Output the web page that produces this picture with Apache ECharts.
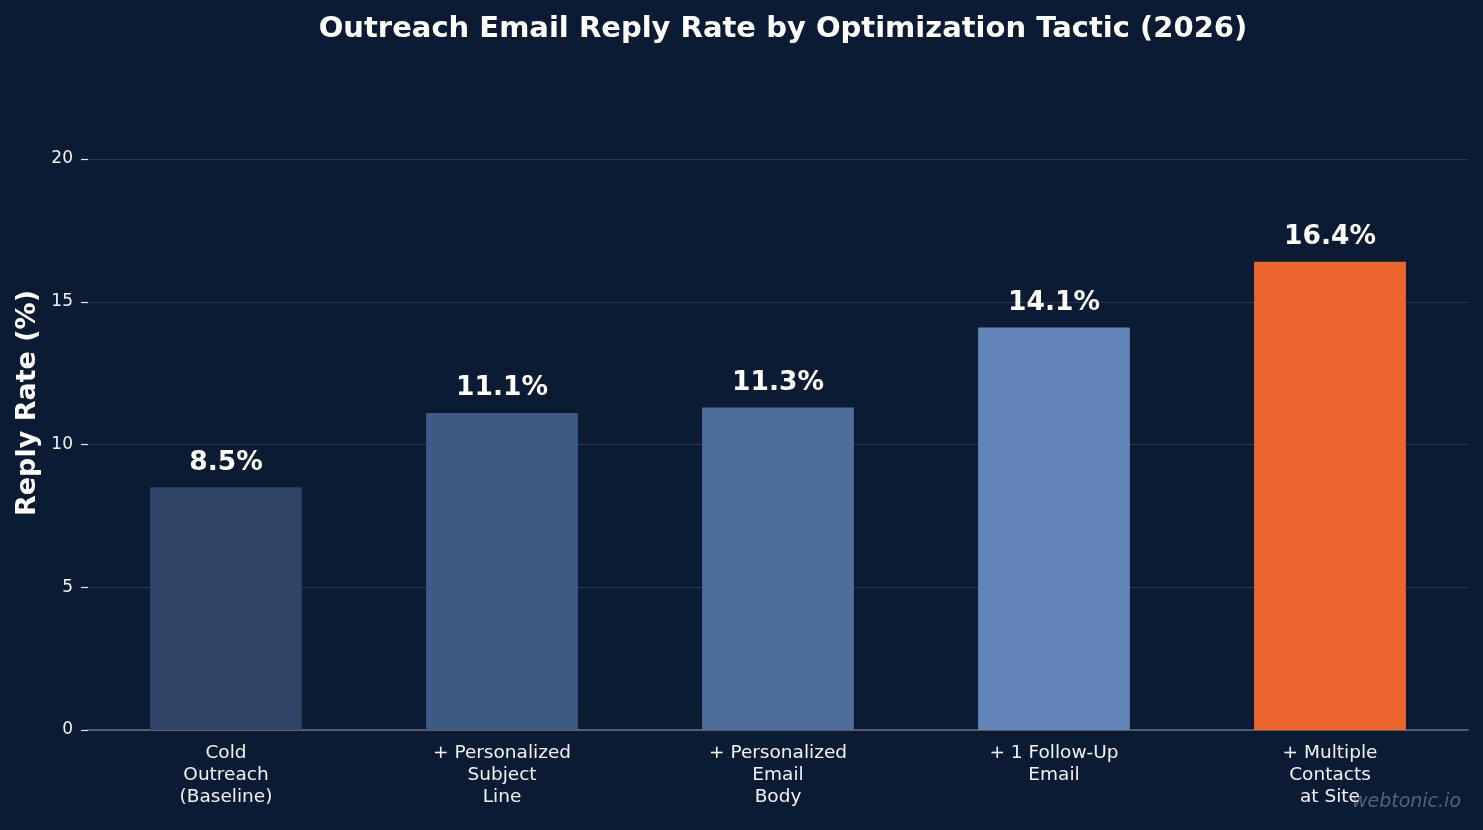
<!DOCTYPE html>
<html>
<head>
<meta charset="utf-8">
<script src="https://cdn.jsdelivr.net/npm/echarts@6/dist/echarts.min.js"></script>
<style>
  html, body { margin: 0; padding: 0; background: #0b1b34; }
  #main { width: 1483px; height: 830px; }
</style>
</head>
<body>
<div id="main"></div>
<script>
var tactics = ['Cold\nOutreach\n(Baseline)', '+ Personalized\nSubject\nLine', '+ Personalized\nEmail\nBody', '+ 1 Follow-Up\nEmail', '+ Multiple\nContacts\nat Site'];
var replyRates = [8.5, 11.1, 11.3, 14.1, 16.4];
var barColors = ['#2f4466', '#3d5a82', '#4e6d9b', '#6283b8', '#eb652d'];
var yTicks = [0, 5, 10, 15, 20];

var font = '"DejaVu Sans", Verdana, sans-serif';
var myChart = echarts.init(document.getElementById('main'));
myChart.setOption({
    backgroundColor: '#0b1b34',
    animation: false,
    textStyle: { fontFamily: font },
    title: {
        text: 'Outreach Email Reply Rate by Optimization Tactic (2026)',
        left: 778,
        textAlign: 'center',
        top: 10,
        textStyle: { color: '#ffffff', fontFamily: font, fontWeight: 'bold', fontSize: 29 }
    },
    graphic: [{
        type: 'text',
        right: 22,
        top: 793,
        style: {
            text: 'webtonic.io',
            fill: 'rgba(150,155,165,0.55)',
            font: 'italic 19px "DejaVu Sans"'
        }
    }, {
        type: 'text',
        left: 14,
        top: 290,
        rotation: Math.PI / 2,
        style: {
            text: 'Reply Rate (%)',
            fill: '#ffffff',
            font: 'bold 27px "DejaVu Sans"'
        }
    }],
    grid: { left: 88, right: 15, top: 159, bottom: 100 },
    xAxis: {
        type: 'category',
        data: tactics,
        axisLine: { lineStyle: { color: '#6b6f76', width: 1.5 } },
        axisTick: { alignWithLabel: true, length: 6, lineStyle: { color: '#e6e9ee', width: 1.2 } },
        axisLabel: { color: '#f0f2f5', fontFamily: font, fontSize: 18.5, lineHeight: 22, margin: 12 }
    },
    yAxis: {
        type: 'value',
        min: 0,
        max: 20,
        interval: 5,
        axisLine: { show: false },
        axisTick: { show: true, length: 7, lineStyle: { color: '#e6e9ee', width: 1.2 } },
        axisLabel: {
            color: '#f0f2f5', fontFamily: font, fontSize: 17, margin: 15,
            formatter: function (v) { return yTicks.indexOf(v) >= 0 ? String(v) : ''; }
        },
        splitLine: { lineStyle: { color: 'rgba(255,255,255,0.12)', width: 1 } }
    },
    series: [{
        type: 'bar',
        barWidth: '55%',
        data: replyRates.map(function (v, i) {
            return { value: v, itemStyle: { color: barColors[i] } };
        }),
        label: {
            show: true,
            position: 'top',
            distance: 11,
            color: '#ffffff',
            fontFamily: font,
            fontWeight: 'bold',
            fontSize: 26.5,
            formatter: function (p) { return p.value.toFixed(1) + '%'; }
        }
    }]
});
</script>
</body>
</html>
